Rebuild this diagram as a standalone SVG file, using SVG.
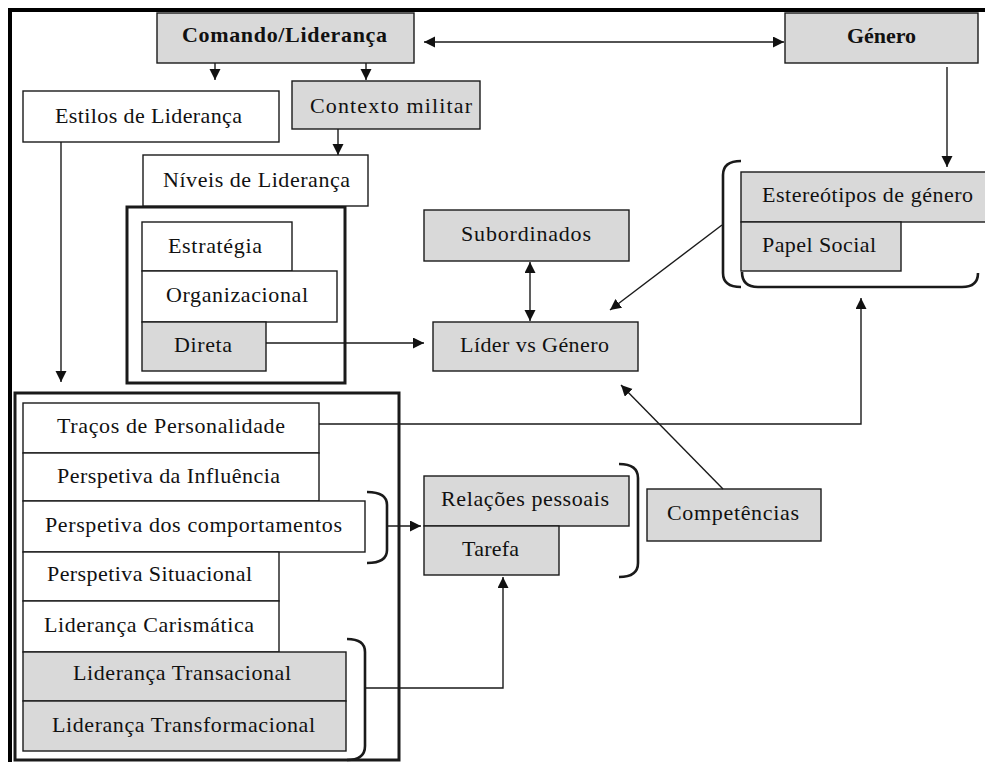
<svg xmlns="http://www.w3.org/2000/svg" width="985" height="762" viewBox="0 0 985 762">
  <style>
    .box { fill: #ffffff; stroke: #1a1a1a; stroke-width: 1.4; }
    .grey { fill: #d9d9d9; stroke: #1a1a1a; stroke-width: 1.4; }
    .frame { fill: none; stroke: #1a1a1a; stroke-width: 3; }
    .lbl { font-family: "Liberation Serif", "Times New Roman", serif; font-size: 22px; fill: #111111; }
    .bold { font-weight: bold; }
    .wire { fill: none; stroke: #1a1a1a; stroke-width: 1.4; }
    .arrow { marker-end: url(#head); }
    .both { marker-start: url(#head); marker-end: url(#head); }
    .brace { fill: none; stroke: #1a1a1a; stroke-width: 2.6; }
  </style>
  <defs>
    <marker id="head" markerUnits="userSpaceOnUse" markerWidth="12" markerHeight="12" refX="11" refY="5.5" orient="auto-start-reverse">
      <path d="M0,0 L11,5.5 L0,11 z" fill="#111111"/>
    </marker>
  </defs>

  <rect width="985" height="762" fill="#ffffff"/>

  <!-- outer page frame (top and left edges) -->
  <path d="M10,762 L10,10 L985,10" fill="none" stroke="#000000" stroke-width="4"/>

  <!-- container frames -->
  <rect id="levels-frame" class="frame" x="127" y="207" width="218" height="176"/>
  <rect id="styles-frame" class="frame" x="15" y="393" width="384" height="367"/>

  <g id="comando">
    <rect class="grey" x="157" y="13" width="257" height="50"/>
    <text class="lbl bold" x="182" y="42" textLength="205" lengthAdjust="spacing">Comando/Liderança</text>
  </g>
  <g id="genero">
    <rect class="grey" x="785" y="13" width="193" height="50"/>
    <text class="lbl bold" x="847" y="43" textLength="69" lengthAdjust="spacing">Género</text>
  </g>
  <g id="estilos">
    <rect class="box" x="23" y="91" width="256" height="51"/>
    <text class="lbl" x="55" y="123" textLength="187" lengthAdjust="spacing">Estilos de Liderança</text>
  </g>
  <g id="contexto">
    <rect class="grey" x="292" y="81" width="188" height="48"/>
    <text class="lbl" x="310" y="113" textLength="162" lengthAdjust="spacing">Contexto militar</text>
  </g>
  <g id="niveis">
    <rect class="box" x="143" y="155" width="225" height="51"/>
    <text class="lbl" x="163" y="187" textLength="187" lengthAdjust="spacing">Níveis de Liderança</text>
  </g>
  <g id="estrategia">
    <rect class="box" x="142" y="222" width="150" height="49"/>
    <text class="lbl" x="168" y="253" textLength="94" lengthAdjust="spacing">Estratégia</text>
  </g>
  <g id="organizacional">
    <rect class="box" x="142" y="271" width="195" height="51"/>
    <text class="lbl" x="166" y="302" textLength="142" lengthAdjust="spacing">Organizacional</text>
  </g>
  <g id="direta">
    <rect class="grey" x="142" y="322" width="124" height="49"/>
    <text class="lbl" x="174" y="352" textLength="58" lengthAdjust="spacing">Direta</text>
  </g>
  <g id="subordinados">
    <rect class="grey" x="424" y="210" width="205" height="51"/>
    <text class="lbl" x="461" y="241" textLength="130" lengthAdjust="spacing">Subordinados</text>
  </g>
  <g id="lider-genero">
    <rect class="grey" x="433" y="322" width="205" height="49"/>
    <text class="lbl" x="460" y="352" textLength="149" lengthAdjust="spacing">Líder vs Género</text>
  </g>
  <g id="estereotipos">
    <rect class="grey" x="741" y="172" width="260" height="50"/>
    <text class="lbl" x="762" y="202" textLength="211" lengthAdjust="spacing">Estereótipos de género</text>
  </g>
  <g id="papel-social">
    <rect class="grey" x="741" y="222" width="160" height="49"/>
    <text class="lbl" x="762" y="252" textLength="114" lengthAdjust="spacing">Papel Social</text>
  </g>
  <g id="tracos">
    <rect class="box" x="23" y="403" width="296" height="50"/>
    <text class="lbl" x="57" y="433" textLength="228" lengthAdjust="spacing">Traços de Personalidade</text>
  </g>
  <g id="influencia">
    <rect class="box" x="23" y="453" width="296" height="48"/>
    <text class="lbl" x="57" y="483" textLength="223" lengthAdjust="spacing">Perspetiva da Influência</text>
  </g>
  <g id="comportamentos">
    <rect class="box" x="23" y="501" width="342" height="51"/>
    <text class="lbl" x="45" y="532" textLength="297" lengthAdjust="spacing">Perspetiva dos comportamentos</text>
  </g>
  <g id="situacional">
    <rect class="box" x="23" y="552" width="256" height="49"/>
    <text class="lbl" x="47" y="581" textLength="205" lengthAdjust="spacing">Perspetiva Situacional</text>
  </g>
  <g id="carismatica">
    <rect class="box" x="23" y="601" width="256" height="51"/>
    <text class="lbl" x="44" y="632" textLength="210" lengthAdjust="spacing">Liderança Carismática</text>
  </g>
  <g id="transacional">
    <rect class="grey" x="23" y="652" width="323" height="49"/>
    <text class="lbl" x="73" y="680" textLength="218" lengthAdjust="spacing">Liderança Transacional</text>
  </g>
  <g id="transformacional">
    <rect class="grey" x="23" y="701" width="323" height="50"/>
    <text class="lbl" x="52" y="732" textLength="263" lengthAdjust="spacing">Liderança Transformacional</text>
  </g>
  <g id="relacoes">
    <rect class="grey" x="424" y="476" width="205" height="50"/>
    <text class="lbl" x="441" y="506" textLength="168" lengthAdjust="spacing">Relações pessoais</text>
  </g>
  <g id="tarefa">
    <rect class="grey" x="424" y="526" width="135" height="49"/>
    <text class="lbl" x="462" y="556" textLength="57" lengthAdjust="spacing">Tarefa</text>
  </g>
  <g id="competencias">
    <rect class="grey" x="647" y="489" width="174" height="52"/>
    <text class="lbl" x="667" y="520" textLength="132" lengthAdjust="spacing">Competências</text>
  </g>

  <!-- grouping braces -->
  <g id="braces">
    <path class="brace" d="M741,161 Q723,161 723,175 L723,273 Q723,287 741,287"/>
    <path class="brace" d="M742,272 Q742,287 758,287 L962,287 Q978,287 978,273"/>
    <path class="brace" d="M367,492 Q387,492 387,505 L387,550 Q387,563 367,563"/>
    <path class="brace" d="M619,464 Q638,464 638,478 L638,563 Q638,577 619,577"/>
    <path class="brace" d="M347,639 Q365,639 365,652 L365,746 Q365,760 347,760"/>
  </g>

  <g id="connectors">
    <line class="wire both" x1="424" y1="42" x2="784" y2="42"/>
    <line class="wire arrow" x1="215" y1="63" x2="215" y2="80"/>
    <line class="wire arrow" x1="366" y1="63" x2="366" y2="80"/>
    <line class="wire arrow" x1="338" y1="129" x2="338" y2="155"/>
    <line class="wire arrow" x1="61" y1="142" x2="61" y2="382"/>
    <line class="wire arrow" x1="947" y1="67" x2="947" y2="167"/>
    <line class="wire arrow" x1="266" y1="343" x2="424" y2="343"/>
    <line class="wire both" x1="530" y1="262" x2="530" y2="321"/>
    <line class="wire arrow" x1="722" y1="225" x2="610" y2="310"/>
    <line class="wire arrow" x1="723" y1="489" x2="621" y2="385"/>
    <polyline class="wire arrow" points="319,424 861,424 861,298"/>
    <line class="wire arrow" x1="387" y1="526" x2="421" y2="526"/>
    <polyline class="wire arrow" points="365,688 503,688 503,577"/>
  </g>
</svg>
